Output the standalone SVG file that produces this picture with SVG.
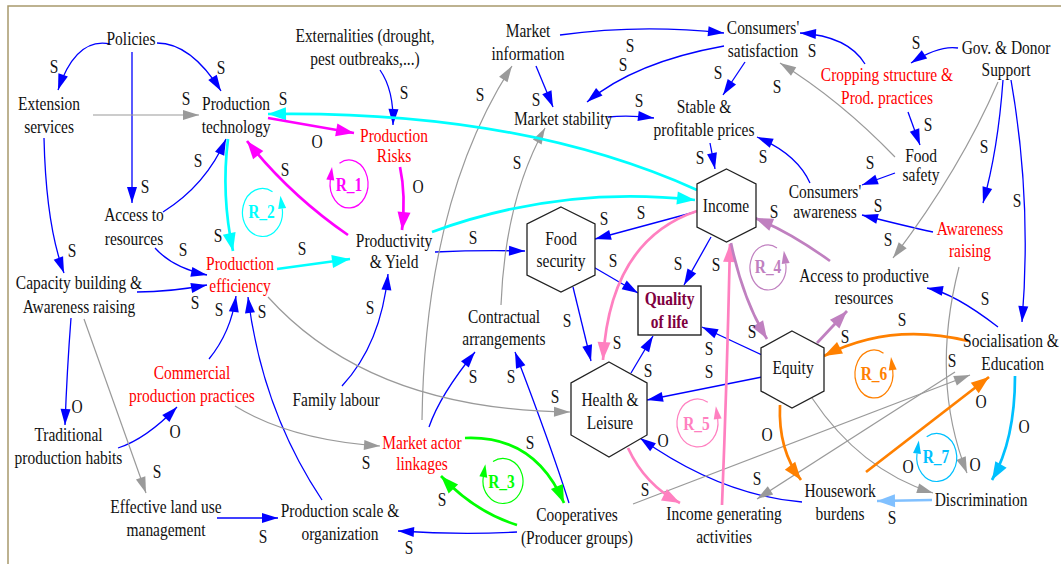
<svg xmlns="http://www.w3.org/2000/svg" width="1061" height="564" viewBox="0 0 1061 564">
<style>
text{font-family:"Liberation Serif","Times New Roman",serif;font-size:18px;fill:#111;text-anchor:middle;transform-box:fill-box;transform-origin:center;transform:scaleX(.86)}
.r{fill:#f00}
.q{fill:#800040;font-weight:bold}
.lp{font-weight:bold}
.hex{fill:#fff;stroke:#222;stroke-width:1.3}
.b{fill:none;stroke:#00f;stroke-width:1.3;marker-end:url(#mb)}
.g{fill:none;stroke:#9a9a9a;stroke-width:1.2;marker-end:url(#mg)}
.c{fill:none;stroke:#0ff;stroke-width:2.7;marker-end:url(#mc)}
.m{fill:none;stroke:#f0f;stroke-width:2.7;marker-end:url(#mm)}
.gr{fill:none;stroke:#0f0;stroke-width:2.7;marker-end:url(#mgr)}
.p{fill:none;stroke:#ff80c0;stroke-width:2.7;marker-end:url(#mp)}
.v{fill:none;stroke:#c080c0;stroke-width:2.7;marker-end:url(#mv)}
.o{fill:none;stroke:#ff8000;stroke-width:2.7;marker-end:url(#mo)}
.d{fill:none;stroke:#00c0ff;stroke-width:2.7;marker-end:url(#md)}
.l{fill:none;stroke:#80c0ff;stroke-width:2.7;marker-end:url(#ml)}
.lm{fill:none;stroke:#f0f;stroke-width:1.2;marker-end:url(#lm)}
.lc{fill:none;stroke:#0ff;stroke-width:1.2;marker-end:url(#lc)}
.lg{fill:none;stroke:#0f0;stroke-width:1.2;marker-end:url(#lg)}
.lv{fill:none;stroke:#c080c0;stroke-width:1.2;marker-end:url(#lv)}
.lpk{fill:none;stroke:#ff80c0;stroke-width:1.2;marker-end:url(#lpk)}
.lo{fill:none;stroke:#ff8000;stroke-width:1.2;marker-end:url(#lo)}
.ld{fill:none;stroke:#00c0ff;stroke-width:1.2;marker-end:url(#ld)}
</style>
<defs>
<marker id="mb" markerUnits="userSpaceOnUse" markerWidth="16" markerHeight="10" refX="16" refY="5" orient="auto" overflow="visible"><path d="M0,0L16,5L0,10z" fill="#00f"/></marker>
<marker id="mg" markerUnits="userSpaceOnUse" markerWidth="16" markerHeight="10" refX="16" refY="5" orient="auto" overflow="visible"><path d="M0,0L16,5L0,10z" fill="#9a9a9a"/></marker>
<marker id="mc" markerUnits="userSpaceOnUse" markerWidth="18" markerHeight="13" refX="18" refY="6.5" orient="auto" overflow="visible"><path d="M0,0L18,6.5L0,13z" fill="#0ff"/></marker>
<marker id="mm" markerUnits="userSpaceOnUse" markerWidth="18" markerHeight="13" refX="18" refY="6.5" orient="auto" overflow="visible"><path d="M0,0L18,6.5L0,13z" fill="#f0f"/></marker>
<marker id="mgr" markerUnits="userSpaceOnUse" markerWidth="18" markerHeight="13" refX="18" refY="6.5" orient="auto" overflow="visible"><path d="M0,0L18,6.5L0,13z" fill="#0f0"/></marker>
<marker id="mp" markerUnits="userSpaceOnUse" markerWidth="18" markerHeight="13" refX="18" refY="6.5" orient="auto" overflow="visible"><path d="M0,0L18,6.5L0,13z" fill="#ff80c0"/></marker>
<marker id="mv" markerUnits="userSpaceOnUse" markerWidth="18" markerHeight="13" refX="18" refY="6.5" orient="auto" overflow="visible"><path d="M0,0L18,6.5L0,13z" fill="#c080c0"/></marker>
<marker id="mo" markerUnits="userSpaceOnUse" markerWidth="18" markerHeight="13" refX="18" refY="6.5" orient="auto" overflow="visible"><path d="M0,0L18,6.5L0,13z" fill="#ff8000"/></marker>
<marker id="md" markerUnits="userSpaceOnUse" markerWidth="18" markerHeight="13" refX="18" refY="6.5" orient="auto" overflow="visible"><path d="M0,0L18,6.5L0,13z" fill="#00c0ff"/></marker>
<marker id="ml" markerUnits="userSpaceOnUse" markerWidth="18" markerHeight="13" refX="18" refY="6.5" orient="auto" overflow="visible"><path d="M0,0L18,6.5L0,13z" fill="#80c0ff"/></marker>
<marker id="lm" markerUnits="userSpaceOnUse" markerWidth="13" markerHeight="8" refX="0" refY="4" orient="auto" overflow="visible"><path d="M0,0L13,4L0,8z" fill="#f0f"/></marker>
<marker id="lc" markerUnits="userSpaceOnUse" markerWidth="13" markerHeight="8" refX="0" refY="4" orient="auto" overflow="visible"><path d="M0,0L13,4L0,8z" fill="#0ff"/></marker>
<marker id="lg" markerUnits="userSpaceOnUse" markerWidth="13" markerHeight="8" refX="0" refY="4" orient="auto" overflow="visible"><path d="M0,0L13,4L0,8z" fill="#0f0"/></marker>
<marker id="lv" markerUnits="userSpaceOnUse" markerWidth="13" markerHeight="8" refX="0" refY="4" orient="auto" overflow="visible"><path d="M0,0L13,4L0,8z" fill="#c080c0"/></marker>
<marker id="lpk" markerUnits="userSpaceOnUse" markerWidth="13" markerHeight="8" refX="0" refY="4" orient="auto" overflow="visible"><path d="M0,0L13,4L0,8z" fill="#ff80c0"/></marker>
<marker id="lo" markerUnits="userSpaceOnUse" markerWidth="13" markerHeight="8" refX="0" refY="4" orient="auto" overflow="visible"><path d="M0,0L13,4L0,8z" fill="#ff8000"/></marker>
<marker id="ld" markerUnits="userSpaceOnUse" markerWidth="13" markerHeight="8" refX="0" refY="4" orient="auto" overflow="visible"><path d="M0,0L13,4L0,8z" fill="#00c0ff"/></marker>
</defs>
<rect width="1061" height="564" fill="#fff"/>
<path d="M8,564V6H1061" fill="none" stroke="#a8996c" stroke-width="1.5"/>

<g id="connectors">
<path class="b" d="M110,44 Q76,37 58,90"/>
<path class="b" d="M157,43 Q191,43 221,91"/>
<path class="b" d="M132,52 L132,203"/>
<path class="b" d="M44,138 Q46,225 64,273"/>
<path class="b" d="M163,212 Q206,185 226,139"/>
<path class="b" d="M155,248 Q173,268 207,275"/>
<path class="b" d="M137,292 Q170,292 207,285"/>
<path class="b" d="M71,318 Q67,370 65,425"/>
<path class="b" d="M118,448 Q146,439 177,407"/>
<path class="b" d="M209,359 Q231,332 236,296"/>
<path class="b" d="M322,500 Q262,410 248,297"/>
<path class="b" d="M217,518 L278,518"/>
<path class="b" d="M342,386 Q381,344 388,274"/>
<path class="b" d="M380,70 Q394,90 393,125"/>
<path class="b" d="M435,252 Q480,250 525,251"/>
<path class="b" d="M695,212 L595,239"/>
<path class="b" d="M590,265 L638,293"/>
<path class="b" d="M573,287 L591,361"/>
<path class="b" d="M711,237 L684,285"/>
<path class="b" d="M764,356 L702,327"/>
<path class="b" d="M762,377 L647,400"/>
<path class="b" d="M631,373 L653,336"/>
<path class="b" d="M560,35 Q640,24 724,33"/>
<path class="b" d="M724,46 Q635,62 587,102"/>
<path class="b" d="M536,66 L553,107"/>
<path class="b" d="M608,117 Q630,115 654,118"/>
<path class="b" d="M745,62 L723,95"/>
<path class="b" d="M710,143 L715,169"/>
<path class="b" d="M810,183 Q797,154 757,137"/>
<path class="b" d="M958,48 Q939,45 911,63"/>
<path class="b" d="M865,64 Q848,36 800,33"/>
<path class="b" d="M908,112 L920,145"/>
<path class="b" d="M895,173 L862,185"/>
<path class="b" d="M933,232 Q905,226 862,215"/>
<path class="b" d="M1003,80 Q998,150 983,203"/>
<path class="b" d="M1011,80 Q1032,200 1022,322"/>
<path class="b" d="M998,327 Q954,293 927,288"/>
<path class="b" d="M429,427 Q440,395 475,352"/>
<path class="b" d="M569,503 Q551,446 515,352"/>
<path class="b" d="M517,532 Q460,535 398,531"/>
<path class="b" d="M802,502 Q720,495 640,438"/>

<path class="g" d="M93,115 L199,115"/>
<path class="g" d="M84,319 L146,493"/>
<path class="g" d="M235,406 Q290,440 380,446"/>
<path class="g" d="M268,297 Q370,410 570,412"/>
<path class="g" d="M422,420 Q425,200 512,66"/>
<path class="g" d="M501,305 Q505,200 545,128"/>
<path class="g" d="M895,157 Q840,100 780,63"/>
<path class="g" d="M998,82 Q960,170 893,258"/>
<path class="g" d="M633,504 L970,375"/>
<path class="g" d="M955,372 L757,499"/>
<path class="g" d="M812,398 Q860,470 933,493"/>
<path class="g" d="M959,267 Q930,380 967,473"/>

<path class="c" d="M228,139 Q221,195 233,251"/>
<path class="c" d="M277,269 L350,259"/>
<path class="c" d="M697,190 Q520,110 268,114"/>
<path class="c" d="M432,232 Q560,185 695,200"/>

<path class="m" d="M348,235 Q290,195 247,141"/>
<path class="m" d="M268,118 L354,133"/>
<path class="m" d="M400,167 Q406,195 402,230"/>

<path class="gr" d="M465,438 Q535,435 564,503"/>
<path class="gr" d="M517,525 Q475,512 441,476"/>

<path class="p" d="M697,211 Q610,240 603,360"/>
<path class="p" d="M722,505 Q727,380 730,244"/>
<path class="p" d="M628,448 Q645,485 680,503"/>

<path class="v" d="M731,243 Q743,300 767,339"/>
<path class="v" d="M830,261 Q790,232 755,218"/>
<path class="v" d="M817,343 L847,311"/>

<path class="o" d="M780,405 Q778,450 801,480"/>
<path class="o" d="M866,472 L989,377"/>
<path class="o" d="M968,341 Q890,322 824,356"/>

<path class="d" d="M1015,376 Q1015,440 992,480"/>
<path class="l" d="M932,500 L877,501"/>

<g id="link-labels">
<text x="54" y="73">S</text><text x="221" y="74">S</text><text x="186" y="105">S</text><text x="283" y="105">S</text>
<text x="198" y="167">S</text><text x="285" y="176">S</text><text x="145" y="193">S</text><text x="218" y="242">S</text>
<text x="183" y="256">S</text><text x="72" y="257">S</text><text x="302" y="255">S</text><text x="317" y="148">O</text>
<text x="630" y="52">S</text><text x="623" y="71">S</text><text x="404" y="99">S</text><text x="480" y="101">S</text>
<text x="536" y="106">S</text><text x="639" y="107">S</text><text x="517" y="169">S</text><text x="418" y="193">O</text>
<text x="604" y="225">S</text><text x="641" y="219">S</text><text x="473" y="244">S</text><text x="613" y="267">S</text>
<text x="678" y="270">S</text>
<text x="916" y="49">S</text><text x="812" y="57">S</text><text x="718" y="79">S</text><text x="777" y="93">S</text>
<text x="928" y="131">S</text><text x="700" y="164">S</text><text x="763" y="163">S</text><text x="870" y="169">S</text>
<text x="984" y="153">S</text><text x="1017" y="207">S</text><text x="774" y="218">S</text><text x="878" y="212">S</text>
<text x="888" y="246">S</text>
<text x="195" y="309">S</text><text x="219" y="316">S</text><text x="262" y="318">S</text>
<text x="77" y="413">O</text><text x="175" y="438">O</text><text x="157" y="478">S</text><text x="263" y="543">S</text>
<text x="370" y="314">S</text><text x="567" y="327">S</text><text x="617" y="349">S</text><text x="648" y="377">S</text>
<text x="473" y="383">S</text><text x="511" y="383">S</text><text x="555" y="403">S</text><text x="366" y="469">S</text>
<text x="530" y="449">S</text><text x="442" y="506">S</text><text x="409" y="554">S</text><text x="645" y="496">S</text>
<text x="663" y="447">O</text><text x="716" y="271">S</text>
<text x="985" y="305">S</text><text x="902" y="326">S</text><text x="752" y="338">S</text><text x="845" y="343">S</text>
<text x="709" y="355">S</text><text x="709" y="378">S</text><text x="952" y="367">S</text><text x="757" y="485">S</text>
<text x="892" y="524">S</text>
<text x="981" y="408">O</text><text x="1024" y="433">O</text><text x="767" y="441">O</text><text x="975" y="471">O</text>
<text x="908" y="473">O</text>
</g>
</g>

<g id="loops">
<g id="loop-R1"><path class="lm" d="M339.5,163.2 A19,24 0 1 1 330.3,180"/><text class="lp" x="349" y="191" style="fill:#f0f">R_1</text></g>
<g id="loop-R2"><path class="lc" d="M272.5,191.7 A20,24 0 1 0 282.2,208.5"/><text class="lp" x="261.5" y="218" style="fill:#0ff">R_2</text></g>
<g id="loop-R3"><path class="lg" d="M493,461.5 A20,22.5 0 1 1 483.3,477"/><text class="lp" x="501.5" y="488" style="fill:#0f0">R_3</text></g>
<g id="loop-R4"><path class="lv" d="M777,248 A18,22.5 0 1 0 785.7,263.5"/><text class="lp" x="768" y="273" style="fill:#c080c0">R_4</text></g>
<g id="loop-R5"><path class="lpk" d="M707.8,402.2 A20.5,24 0 1 0 717.7,419"/><text class="lp" x="696.5" y="430" style="fill:#ff80c0">R_5</text></g>
<g id="loop-R6"><path class="lo" d="M883.5,353.2 A19,24 0 1 0 892.7,370"/><text class="lp" x="874" y="380" style="fill:#ff8000">R_6</text></g>
<g id="loop-R7"><path class="ld" d="M926.7,436.7 A20,24 0 1 1 917,453.5"/><text class="lp" x="936" y="463" style="fill:#00c0ff">R_7</text></g>
</g>

<g id="n-policies"><text x="131" y="45">Policies</text></g>
<g id="n-extension"><text x="49" y="110"><tspan x="49">Extension</tspan><tspan x="49" dy="23">services</tspan></text></g>
<g id="n-prodtech"><text x="236" y="110"><tspan x="236">Production</tspan><tspan x="236" dy="23">technology</tspan></text></g>
<g id="n-externalities"><text x="365" y="42"><tspan x="365">Externalities (drought,</tspan><tspan x="365" dy="23">pest outbreaks,...)</tspan></text></g>
<g id="n-marketinfo"><text x="528" y="37"><tspan x="528">Market</tspan><tspan x="528" dy="23">information</tspan></text></g>
<g id="n-consat"><text x="763" y="34"><tspan x="763">Consumers'</tspan><tspan x="763" dy="23">satisfaction</tspan></text></g>
<g id="n-gov"><text x="1006" y="54"><tspan x="1006">Gov. &amp; Donor</tspan><tspan x="1006" dy="22">Support</tspan></text></g>
<g id="n-cropping"><text class="r" x="887" y="81"><tspan x="887">Cropping structure &amp;</tspan><tspan x="887" dy="23">Prod. practices</tspan></text></g>
<g id="n-marketstab"><text x="563" y="125">Market stability</text></g>
<g id="n-prices"><text x="704" y="113"><tspan x="704">Stable &amp;</tspan><tspan x="704" dy="23">profitable prices</tspan></text></g>
<g id="n-foodsafety"><text x="921" y="162"><tspan x="921">Food</tspan><tspan x="921" dy="19">safety</tspan></text></g>
<g id="n-conaware"><text x="825" y="198"><tspan x="825">Consumers'</tspan><tspan x="825" dy="20">awareness</tspan></text></g>
<g id="n-income"><polygon class="hex" points="726.5,169 756,184 756,227 726.5,242 697,227 697,184"/><text x="726" y="212">Income</text></g>
<g id="n-foodsec"><polygon class="hex" points="561,207 595,224 595,275 561,292 527,275 527,224"/><text x="561" y="245"><tspan x="561">Food</tspan><tspan x="561" dy="22">security</tspan></text></g>
<g id="n-qol"><rect x="638" y="286" width="63" height="49" fill="#fff" stroke="#111" stroke-width="1.3"/><text class="q" x="669.5" y="305"><tspan x="669.5">Quality</tspan><tspan x="669.5" dy="23">of life</tspan></text></g>
<g id="n-health"><polygon class="hex" points="609,362 647,383 647,435 609,457 571,435 571,383"/><text x="610" y="406"><tspan x="610">Health &amp;</tspan><tspan x="610" dy="23">Leisure</tspan></text></g>
<g id="n-equity"><polygon class="hex" points="792,331 824,348 824,391 792,408 761,391 761,348"/><text x="793" y="374">Equity</text></g>
<g id="n-accessprod"><text x="864" y="282"><tspan x="864">Access to productive</tspan><tspan x="864" dy="22">resources</tspan></text></g>
<g id="n-awareness"><text class="r" x="970" y="235"><tspan x="970">Awareness</tspan><tspan x="970" dy="22">raising</tspan></text></g>
<g id="n-socialisation"><text x="1011" y="347"><tspan x="1011">Socialisation &amp;</tspan><tspan x="1013" dy="23">Education</tspan></text></g>
<g id="n-discrimination"><text x="981" y="506">Discrimination</text></g>
<g id="n-housework"><text x="840" y="497"><tspan x="840">Housework</tspan><tspan x="840" dy="23">burdens</tspan></text></g>
<g id="n-iga"><text x="724" y="520"><tspan x="724">Income generating</tspan><tspan x="724" dy="23">activities</tspan></text></g>
<g id="n-coop"><text x="577" y="521"><tspan x="577">Cooperatives</tspan><tspan x="577" dy="23">(Producer groups)</tspan></text></g>
<g id="n-prodscale"><text x="340" y="517"><tspan x="340">Production scale &amp;</tspan><tspan x="340" dy="23">organization</tspan></text></g>
<g id="n-landuse"><text x="166" y="513"><tspan x="166">Effective land use</tspan><tspan x="166" dy="23">management</tspan></text></g>
<g id="n-traditional"><text x="68.5" y="441"><tspan x="68.5">Traditional</tspan><tspan x="68.5" dy="23">production habits</tspan></text></g>
<g id="n-commercial"><text class="r" x="192" y="379"><tspan x="192">Commercial</tspan><tspan x="192" dy="23">production practices</tspan></text></g>
<g id="n-capacity"><text x="79" y="289"><tspan x="79">Capacity building &amp;</tspan><tspan x="79" dy="24">Awareness raising</tspan></text></g>
<g id="n-access"><text x="134" y="221"><tspan x="134">Access to</tspan><tspan x="134" dy="24">resources</tspan></text></g>
<g id="n-prodeff"><text class="r" x="240" y="270"><tspan x="240">Production</tspan><tspan x="240" dy="22">efficiency</tspan></text></g>
<g id="n-risks"><text class="r" x="394" y="142"><tspan x="394">Production</tspan><tspan x="394" dy="20">Risks</tspan></text></g>
<g id="n-productivity"><text x="394" y="247"><tspan x="394">Productivity</tspan><tspan x="394" dy="21">&amp; Yield</tspan></text></g>
<g id="n-family"><text x="336" y="406">Family labour</text></g>
<g id="n-contractual"><text x="504" y="323"><tspan x="504">Contractual</tspan><tspan x="504" dy="22">arrangements</tspan></text></g>
<g id="n-marketactor"><text class="r" x="422" y="449"><tspan x="422">Market actor</tspan><tspan x="422" dy="21">linkages</tspan></text></g>
</svg>
